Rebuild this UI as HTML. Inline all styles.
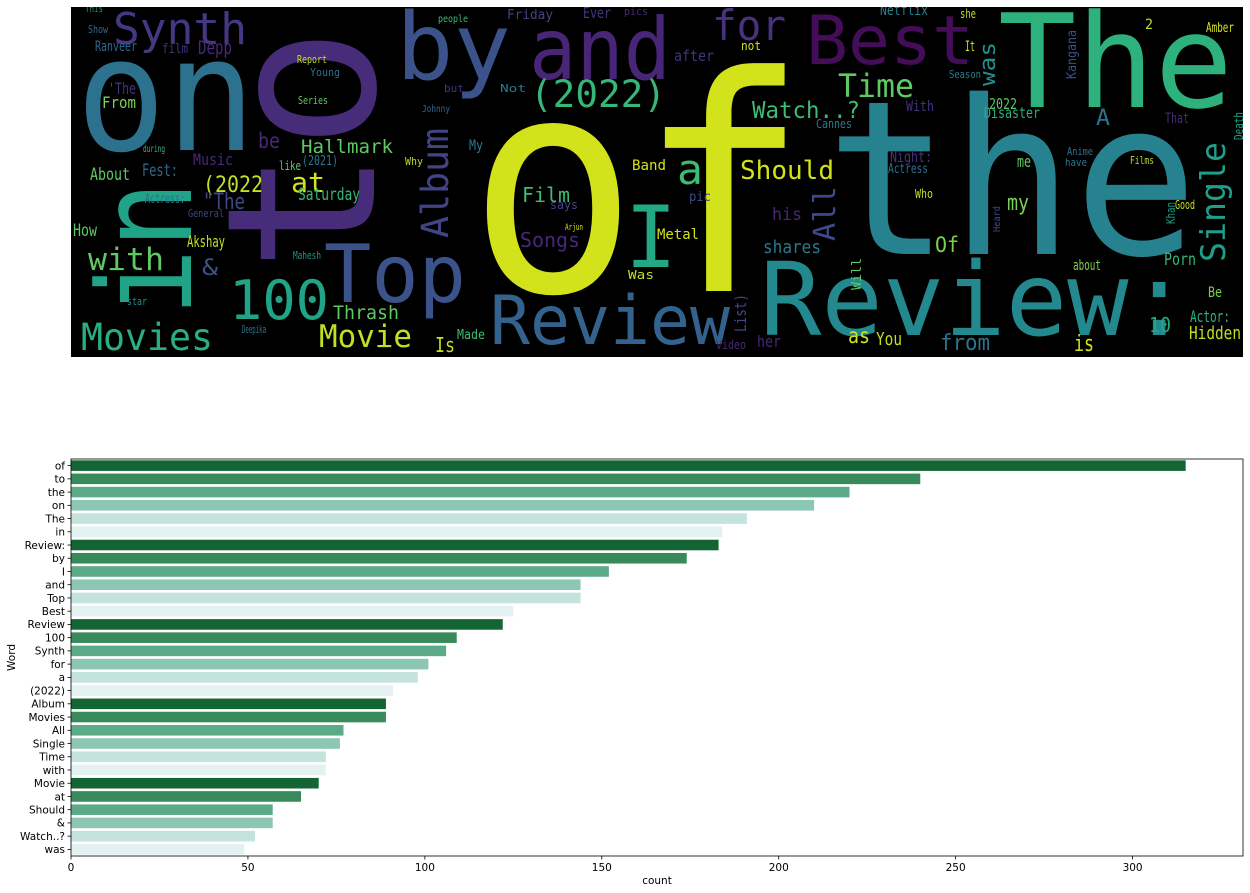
<!DOCTYPE html>
<html><head><meta charset="utf-8"><style>
body{margin:0;background:#fff;width:1250px;height:893px;overflow:hidden}
svg{display:block}
</style></head><body>
<svg id="root" width="1250" height="893" xmlns="http://www.w3.org/2000/svg">
<defs><clipPath id="cc"><rect x="71" y="7" width="1172" height="350"/></clipPath></defs>
<rect x="71" y="7" width="1172" height="350" fill="#000"/>
<g id="cloud" clip-path="url(#cc)" font-family="'DejaVu Sans Mono', 'Liberation Mono', monospace"></g>
<g id="chart" font-family="'DejaVu Sans','Liberation Sans',sans-serif" font-size="10.5"></g>
</svg>
<script>
// ---- bar chart data ----
const words = ["of","to","the","on","The","in","Review:","by","I","and","Top","Best","Review","100","Synth","for","a","(2022)","Album","Movies","All","Single","Time","with","Movie","at","Should","&","Watch..?","was"];
const counts = [315,240,220,210,191,184,183,174,152,144,144,125,122,109,106,101,98,91,89,89,77,76,72,72,70,65,57,57,52,49];
const xTicks = [0,50,100,150,200,250,300];
const palette = ["#136534","#388a5a","#5cab88","#8cc6b4","#c3e3dc","#e3f1f1"];

// ---- word cloud: [text, x, baseline y, font size, color, rotated, length(0=natural)] ----
const cloud = [
["of",468,291,300,"#d2e21b",0,340],
["the",826,254,215,"#26828e",0,372],
["The",998,107,130,"#2db27d",0,235],
["to",374,272,207,"#472c7a",1,245],
["on",76,150,158,"#2c728e",0,180],
["in",191,316,130,"#20a386",1,135],
["by",396,79,93,"#3b528b",0,115],
["and",529,79,86,"#482576",0,142],
["Best",806,64,68,"#440d57",0,168],
["Synth",113,44,44,"#453781",0,134],
["for",712,40,42,"#46327e",0,74],
["Top",324,302,80,"#3b528b",0,142],
["100",229,319,54,"#20a386",0,100],
["Review:",760,335,102,"#23898e",0,430],
["Review",490,344,68,"#33638d",0,240],
["Movies",81,350,37,"#29af7f",0,132],
["Movie",319,347,31,"#c2df23",0,93],
["(2022)",530,107,37,"#35b779",0,136],
["Time",838,97,32,"#5ec962",0,76],
["Watch..?",752,118,23,"#3dbc74",0,108],
["Should",740,179,26,"#d2e21b",0,94],
["a",677,184,42,"#3dbc74",0,26],
["Album",448,238,37,"#414487",1,110],
["I",625,267,86,"#22a884",0,52],
["with",88,270,31,"#5ec962",0,76],
["at",291,192,28,"#d2e21b",0,34],
["Single",1225,262,34,"#1f9e89",1,120],
["All",835,241,30,"#3e4989",1,55],
["was",995,86,22,"#21918c",1,44],
["Film",522,202,20,"#3dbc74",0,48],
["Songs",520,247,20,"#482878",0,60],
["Hallmark",301,153,19,"#5ec962",0,92],
["(2022",203,192,22,"#c2df23",0,60],
["&",202,275,22,"#3b528b",0,16],
["Thrash",333,319,19,"#5ec962",0,66],
["Metal",657,239,14,"#d2e21b",0,42],
["Band",632,170,14,"#d8e219",0,34],
["shares",763,253,18,"#2a788e",0,58],
["his",772,220,17,"#482878",0,30],
["my",1007,210,22,"#7ad151",0,22],
["Of",935,252,21,"#7ad151",0,24],
["as",848,343,21,"#d2e21b",0,22],
["You",876,345,18,"#c2df23",0,26],
["is",1074,351,22,"#d8e219",0,20],
["from",940,350,22,"#2c728e",0,50],
["Hidden",1189,339,18,"#c2df23",0,52],
["10",1149,332,20,"#22a884",0,22],
["Actor:",1190,322,16,"#2db27d",0,40],
["Porn",1164,265,17,"#35b779",0,32],
["A",1096,125,22,"#2c728e",0,14],
["be",258,148,21,"#482878",0,22],
["About",90,180,17,"#5ec962",0,40],
["From",102,108,16,"#7ad151",0,34],
["'The",108,94,16,"#46327e",0,28],
["\"The",203,209,22,"#3e4989",0,42],
["Saturday",298,200,17,"#35b779",0,62],
["Fest:",142,176,17,"#31688e",0,36],
["Music",193,165,16,"#482878",0,40],
["Actress:",145,203,13,"#2c728e",0,40],
["General",188,217,11,"#414487",0,36],
["How",73,236,17,"#5ec962",0,24],
["Akshay",187,247,16,"#c8e020",0,38],
["Depp",198,54,19,"#482878",0,34],
["Ranveer",95,51,14,"#31688e",0,42],
["film",162,53,13,"#46327e",0,26],
["Report",297,63,11,"#c2df23",0,30],
["Young",310,76,11,"#2c728e",0,30],
["Series",298,104,11,"#5ec962",0,30],
["(2021)",302,165,13,"#2a788e",0,36],
["like",279,170,12,"#5ec962",0,22],
["during",143,152,10,"#35b779",0,22],
["Mahesh",293,259,11,"#21918c",0,28],
["Deepika",242,333,11,"#2a788e",0,24],
["star",127,305,11,"#21918c",0,20],
["This",85,12,10,"#21918c",0,18],
["Show",88,33,11,"#31688e",0,20],
["Is",435,352,20,"#c2df23",0,20],
["Made",457,339,13,"#3dbc74",0,28],
["Friday",507,19,13,"#414487",0,46],
["Ever",583,18,15,"#46327e",0,28],
["pics",624,15,11,"#482878",0,24],
["people",438,22,10,"#3dbc74",0,30],
["Not",500,92,11,"#2a788e",0,26],
["but",444,92,11,"#46327e",0,20],
["Johnny",422,112,10,"#31688e",0,28],
["My",469,150,14,"#2a788e",0,14],
["Why",405,165,11,"#b5de2b",0,18],
["says",550,209,12,"#414487",0,28],
["Arjun",565,230,9,"#d8e219",0,18],
["Was",628,279,12,"#c2df23",0,26],
["after",674,61,15,"#46327e",0,40],
["not",741,50,12,"#d2e21b",0,20],
["Netflix",880,15,14,"#26828e",0,48],
["Cannes",816,128,12,"#2a788e",0,36],
["With",906,111,14,"#46327e",0,28],
["Night:",890,162,15,"#46327e",0,42],
["Actress",888,173,13,"#2c728e",0,40],
["Who",915,198,12,"#c2df23",0,18],
["pic",689,201,13,"#3e4989",0,22],
["List)",746,332,16,"#414487",1,38],
["Will",861,290,13,"#5ec962",1,32],
["Video",716,349,12,"#482878",0,30],
["her",757,347,16,"#482878",0,24],
["Kangana",1076,79,13,"#3b528b",1,49],
["Amber",1206,32,13,"#d2e21b",0,28],
["2",1145,29,14,"#c2df23",0,8],
["It",965,51,14,"#d2e21b",0,10],
["she",960,18,12,"#c2df23",0,16],
["Season",949,78,11,"#2a788e",0,32],
["2022",989,109,15,"#5ec962",0,28],
["Disaster",984,118,15,"#29af7f",0,56],
["That",1165,123,14,"#482878",0,24],
["Death",1243,140,12,"#20a386",1,28],
["about",1073,270,14,"#7ad151",0,28],
["me",1017,167,16,"#5ec962",0,14],
["Khan",1175,224,12,"#1f9e89",1,22],
["Good",1175,209,12,"#c2df23",0,20],
["Be",1208,297,14,"#7ad151",0,14],
["Anime",1067,155,11,"#2c728e",0,26],
["have",1065,166,11,"#2a788e",0,22],
["Films",1130,164,11,"#b5de2b",0,24],
["Heard",1000,232,10,"#3e4989",1,26]
];
</script>
<script>
const NS="http://www.w3.org/2000/svg";
const cg=document.getElementById('cloud');
cloud.forEach(w=>{
  const t=document.createElementNS(NS,'text');
  
  
  t.setAttribute('x',w[1]);t.setAttribute('y',w[2]);
  t.setAttribute('font-size',w[3]);t.setAttribute('fill',w[4]);
  if(w[6]){t.setAttribute('textLength',w[6]);t.setAttribute('lengthAdjust','spacingAndGlyphs');}
  if(w[5]) t.setAttribute('transform','rotate(-90 '+w[1]+' '+w[2]+')');
  t.textContent=w[0];
  cg.appendChild(t);
});

// ---- bar chart ----
const g=document.getElementById('chart');
const L=71,R=1243,T=459,B=856;
const xMax=331.2;
const xs=v=>L+v/xMax*(R-L);
const step=(B-T)/words.length;
const ys=i=>T+i*step;
function el(tag,attrs){const e=document.createElementNS(NS,tag);for(const k in attrs)e.setAttribute(k,attrs[k]);g.appendChild(e);return e;}
words.forEach((w,i)=>{
  const r=el('rect',{x:L,y:ys(i)+step*0.1,width:xs(counts[i])-L,height:step*0.8,fill:palette[i%6]});
  
  
  const tk=el('line',{x1:L-3.5,x2:L,y1:ys(i)+step/2,y2:ys(i)+step/2,stroke:'#000','stroke-width':0.8});
  
  
  const lb=el('text',{x:L-6,y:ys(i)+step/2+3.8,'text-anchor':'end',fill:'#000'});
  
  
  lb.textContent=w;
});
xTicks.forEach(v=>{
  const tk=el('line',{x1:xs(v),x2:xs(v),y1:B,y2:B+3.5,stroke:'#000','stroke-width':0.8});
  
  
  const lb=el('text',{x:xs(v),y:B+15,'text-anchor':'middle',fill:'#000'});
  
  
  lb.textContent=v;
});
const frame=el('rect',{x:L,y:T,width:R-L,height:B-T,fill:'none',stroke:'#000','stroke-width':0.8});


const xl=el('text',{x:(L+R)/2,y:B+28,'text-anchor':'middle',fill:'#000'});


xl.textContent='count';
const yl=el('text',{x:15,y:(T+B)/2,'text-anchor':'middle',fill:'#000',transform:'rotate(-90 15 '+(T+B)/2+')'});


yl.textContent='Word';
</script>
</body></html>
